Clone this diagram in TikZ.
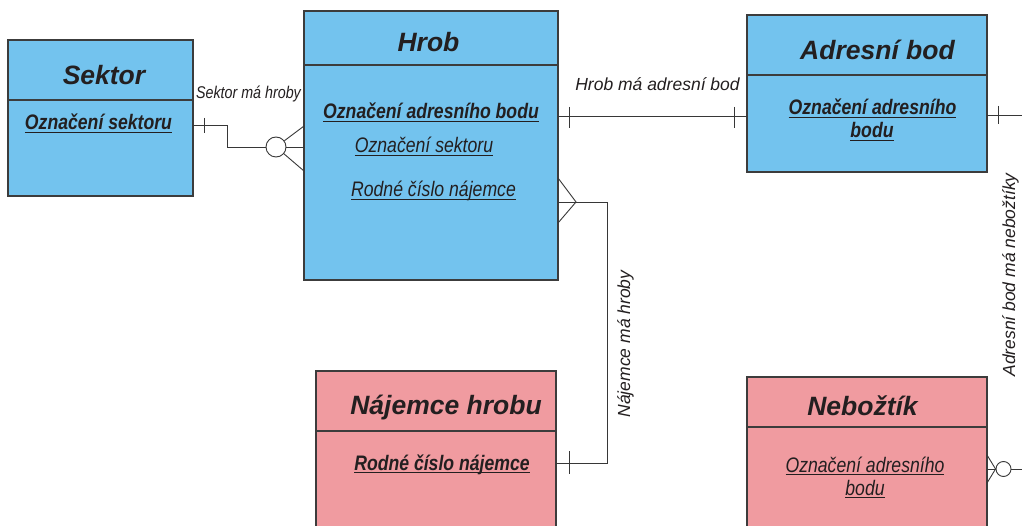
\documentclass[tikz,border=0pt]{standalone}
\usepackage{fontspec}
\setmainfont{Liberation Sans}
\newfontfamily\nrw[FakeStretch=0.84]{Liberation Sans}
\definecolor{entblue}{RGB}{115,195,238}
\definecolor{entpink}{RGB}{240,155,160}
\definecolor{edgecol}{RGB}{60,60,60}
\definecolor{conncol}{RGB}{55,55,55}
\definecolor{txt}{RGB}{35,31,32}
\newcommand\uln[1]{\setbox0=\hbox{#1}\rlap{\rule[-3pt]{\wd0}{0.9pt}}\box0}
\begin{document}
\begin{tikzpicture}[x=1pt,y=-1pt,
  entbox/.style={draw=edgecol, line width=1.2pt, anchor=north west, inner sep=0pt, outer sep=0pt},
  bluebox/.style={entbox, fill=entblue},
  pinkbox/.style={entbox, fill=entpink},
  hdrline/.style={draw=edgecol, line width=1.2pt},
  title/.style={anchor=base, inner sep=0pt, text=txt, font=\fontsize{26.5}{30}\selectfont\bfseries\itshape},
  keyattr/.style={anchor=base, inner sep=0pt, text=txt, font=\nrw\fontsize{21}{24}\selectfont\bfseries\itshape},
  attr/.style={anchor=base, inner sep=0pt, text=txt, font=\nrw\fontsize{21}{24}\selectfont\itshape},
  rel/.style={anchor=base, inner sep=0pt, text=txt, font=\fontsize{17.5}{20}\selectfont\itshape},
  nrel/.style={anchor=base, inner sep=0pt, text=txt, font=\nrw\fontsize{17}{20}\selectfont\itshape},
  conn/.style={draw=conncol, line width=0.9pt},
  ring/.style={circle, draw=conncol, line width=0.9pt, fill=white, inner sep=0pt, minimum size=#1}
]
\useasboundingbox (0,0) rectangle (1022,526);
\fill[white] (0,0) rectangle (1022,526);
\clip (0,0) rectangle (1022,526);

% entities
\node[bluebox, minimum width=185pt, minimum height=156pt] (sektor) at (8,40) {};
\draw[hdrline] (sektor.west |- 0,100) -- (sektor.east |- 0,100);
\node[bluebox, minimum width=254pt, minimum height=269pt] (hrob) at (304,11) {};
\draw[hdrline] (hrob.west |- 0,65) -- (hrob.east |- 0,65);
\node[bluebox, minimum width=240pt, minimum height=157pt] (adr) at (747,15) {};
\draw[hdrline] (adr.west |- 0,75) -- (adr.east |- 0,75);
\node[pinkbox, minimum width=240pt, minimum height=200pt] (naj) at (316,371) {};
\draw[hdrline] (naj.west |- 0,431) -- (naj.east |- 0,431);
\node[pinkbox, minimum width=240pt, minimum height=200pt] (neb) at (747,377) {};
\draw[hdrline] (neb.west |- 0,427) -- (neb.east |- 0,427);

% texts
\node[title] (tsektor) at (104,85) {Sektor};
\node[keyattr] (asektor) at (98.5,130) {\uln{Označení sektoru}};
\node[title] (throb) at (428.5,52) {Hrob};
\node[keyattr] (ahrob1) at (431,119) {\uln{Označení adresního bodu}};
\node[attr] (ahrob2) at (424,153) {\uln{Označení sektoru}};
\node[attr] (ahrob3) at (433.5,197) {\uln{Rodné číslo nájemce}};
\node[title] (tadr) at (877.5,60) {Adresní bod};
\node[keyattr] (aadr1) at (872.5,115) {\uln{Označení adresního}};
\node[keyattr] (aadr2) at (872,138) {\uln{bodu}};
\node[title] (tnaj) at (446,414) {Nájemce hrobu};
\node[keyattr] (anaj) at (442,470) {\uln{Rodné číslo nájemce}};
\node[title] (tneb) at (862.5,415) {Nebožtík};
\node[attr] (aneb1) at (865,472) {\uln{Označení adresního}};
\node[attr] (aneb2) at (865,495) {\uln{bodu}};

% relationship labels
\node[nrel] (lsh) at (248.5,99) {Sektor má hroby};
\node[rel] (lha) at (657.5,91) {Hrob má adresní bod};
\node[rel, rotate=90] (lnh) at (630,344) {Nájemce má hroby};
\node[rel, rotate=90] (lan) at (1015,275) {Adresní bod má nebožtíky};

% Sektor -- Hrob
\node[ring=20pt] (c1) at (276,147) {};
\coordinate (b1) at (227,125);
\draw[conn] (sektor.east |- b1) -- (b1) -- (b1 |- c1) -- (c1);
\draw[conn] (204,118) -- (204,133);
\draw[conn] (c1) -- (hrob.west |- c1);
\draw[conn] (c1) -- (hrob.west |- 0,126);
\draw[conn] (c1) -- (hrob.west |- 0,171);

% Hrob -- Adresni bod
\draw[conn] (hrob.east |- 0,116) -- (adr.west |- 0,116);
\draw[conn] (569,107) -- (569,128);
\draw[conn] (734,107) -- (734,128);

% Hrob -- Najemce
\coordinate (cf) at (576,202);
\coordinate (b3) at (607,202);
\coordinate (b4) at (607,463);
\draw[conn] (hrob.east |- 0,178) -- (cf) -- (hrob.east |- 0,223);
\draw[conn] (hrob.east |- cf) -- (b3) -- (b4) -- (naj.east |- b4);
\draw[conn] (569,451) -- (569,474);

% Adresni bod -- Neboztik (continues beyond the right edge)
\coordinate (e1) at (1022,115);
\draw[conn] (adr.east |- e1) -- (e1);
\draw[conn] (998,106) -- (998,124);
\node[ring=15pt] (c2) at (1003.5,469) {};
\coordinate (e2) at (1022,469);
\draw[conn] (c2) -- (e2);
\draw[conn] (neb.east |- 0,455) -- (c2.west);
\draw[conn] (neb.east |- c2) -- (c2.west);
\draw[conn] (neb.east |- 0,483) -- (c2.west);
\end{tikzpicture}
\end{document}
